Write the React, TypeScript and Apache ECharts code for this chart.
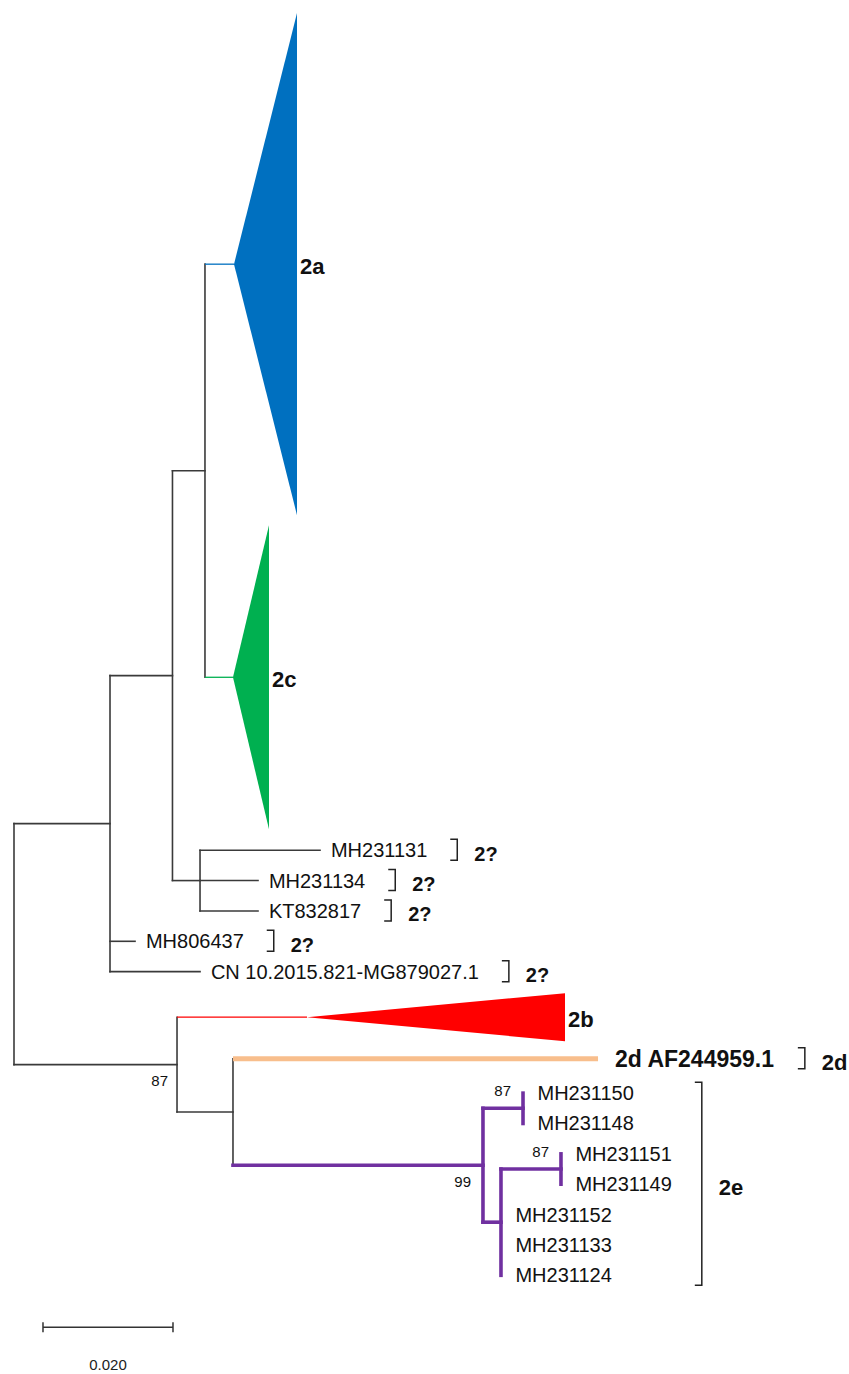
import React, { useEffect, useRef } from "react";
import * as echarts from "echarts";

// ---------------- DATA ----------------
// Distances are substitutions/site from the root; rows are vertical leaf slots.
const internalNames = ["root", "n1", "n2", "n3", "n4", "n5", "n6", "n7", "n8", "n9", "n10"];
const internalParents: (string | null)[] = [null, "root", "n1", "n2", "n2", "root", "n5", "n6", "n7", "n7", "n9"];
const internalDepths = [0, 0.01477, 0.02438, 0.02938, 0.02862, 0.02508, 0.03369, 0.07215, 0.07831, 0.07492, 0.08415];
const internalColors = ["k", "k", "k", "k", "k", "k", "k", "p", "p", "p", "p"];

const leafNames = [
  "MH231131", "MH231134", "KT832817", "MH806437", "CN 10.2015.821-MG879027.1",
  "2d AF244959.1",
  "MH231150", "MH231148", "MH231151", "MH231149", "MH231152", "MH231133", "MH231124",
];
const leafParents = ["n4", "n4", "n4", "n1", "n1", "n6", "n8", "n8", "n10", "n10", "n9", "n9", "n9"];
const leafDepths = [0.04708, 0.03754, 0.03754, 0.01862, 0.02862, 0.08985, 0.07831, 0.07831, 0.08415, 0.08415, 0.07492, 0.07492, 0.07492];
const leafRows = [0, 1, 2, 3, 4, 6.87, 8, 9, 10, 11, 12, 13, 14];
const leafColors = ["k", "k", "k", "k", "k", "o", "p", "p", "p", "p", "p", "p", "p"];
const leafBold = [false, false, false, false, false, true, false, false, false, false, false, false, false];

// Collapsed clades (drawn as triangles)
const cladeNames = ["2a", "2c", "2b"];
const cladeParents = ["n3", "n3", "n5"];
const cladeApexDepths = [0.03385, 0.03369, 0.04508];
const cladeTipDepths = [0.04354, 0.03923, 0.08477];
const cladeTopRows = [-27.57, -10.7, 4.71];
const cladeBottomRows = [-11.03, -0.69, 6.29];
const cladeColors = ["b", "g", "r"];

// Bootstrap support values
const bootNodes = ["n5", "n7", "n8", "n10"];
const bootValues = ["87", "99", "87", "87"];
const bootSide = ["below", "below", "above", "above"];

// Genotype brackets
const groupLabels = ["2?", "2?", "2?", "2?", "2?", "2d", "2e"];
const groupMembers = [
  ["MH231131"], ["MH231134"], ["KT832817"], ["MH806437"], ["CN 10.2015.821-MG879027.1"],
  ["2d AF244959.1"],
  ["MH231150", "MH231148", "MH231151", "MH231149", "MH231152", "MH231133", "MH231124"],
];

// Scale bar
const scaleBarLength = 0.02;
const scaleBarLabel = "0.020";

// ---------------- STYLE ----------------
const COLORS: Record<string, string> = {
  k: "#3a3a3a", p: "#7030A0", o: "#F8BE8C", b: "#0070C0", g: "#00B050", r: "#FF0000",
};
const WIDTHS: Record<string, number> = { k: 1.6, p: 3.6, o: 5, b: 1.3, g: 1.3, r: 1.3 };
const FONT = '"Liberation Sans", Arial, sans-serif';

export default function App() {
  const ref = useRef<HTMLDivElement>(null);
  useEffect(() => {
    document.body.style.margin = "0";
    const chart = echarts.init(ref.current!, null, { renderer: "svg" });

    const canvas = document.createElement("canvas");
    const ctx = canvas.getContext("2d")!;
    const measure = (t: string, size: number, bold: boolean) => {
      ctx.font = `${bold ? "bold " : ""}${size}px "Liberation Sans", Arial, sans-serif`;
      return ctx.measureText(t).width;
    };

    // row computation
    const rowCache: Record<string, number> = {};
    const childRows = (name: string): number[] => {
      const rows: number[] = [];
      internalNames.forEach((n, i) => { if (internalParents[i] === name) rows.push(nodeRow(n)); });
      leafNames.forEach((_, i) => { if (leafParents[i] === name) rows.push(leafRows[i]); });
      cladeNames.forEach((_, i) => { if (cladeParents[i] === name) rows.push((cladeTopRows[i] + cladeBottomRows[i]) / 2); });
      return rows;
    };
    function nodeRow(name: string): number {
      if (rowCache[name] !== undefined) return rowCache[name];
      const r = childRows(name);
      const v = (Math.min(...r) + Math.max(...r)) / 2;
      rowCache[name] = v;
      return v;
    }
    const depthOf = (name: string) => internalDepths[internalNames.indexOf(name)];

    const marks: any[] = [];
    const seg = (x1: number, y1: number, x2: number, y2: number, c: string) => {
      if (x1 === x2 && y1 === y2) return;
      marks.push({ kind: "seg", x1, y1, x2, y2, color: COLORS[c], width: WIDTHS[c], cap: c === "k" || c === "p" ? "square" : "butt" });
    };

    internalNames.forEach((n, i) => {
      const r = childRows(n);
      const c = internalColors[i];
      seg(internalDepths[i], Math.min(...r), internalDepths[i], Math.max(...r), c);
      const p = internalParents[i];
      if (p) seg(depthOf(p), nodeRow(n), internalDepths[i], nodeRow(n), c);
    });
    leafNames.forEach((n, i) => {
      const c = leafColors[i];
      seg(depthOf(leafParents[i]), leafRows[i], leafDepths[i], leafRows[i], c);
    });
    cladeNames.forEach((n, i) => {
      const c = cladeColors[i];
      const mid = (cladeTopRows[i] + cladeBottomRows[i]) / 2;
      seg(depthOf(cladeParents[i]), mid, cladeApexDepths[i], mid, c);
      marks.push({ kind: "tri", apex: [cladeApexDepths[i], mid], top: [cladeTipDepths[i], cladeTopRows[i]], bottom: [cladeTipDepths[i], cladeBottomRows[i]], color: COLORS[c] });
      marks.push({ kind: "text", x: cladeTipDepths[i], y: mid, dx: 3, dy: 2, text: n, size: 22, bold: true, align: "left" });
    });

    // leaf labels
    const leafLabelOffset = (i: number) => 8 + 1.8 * WIDTHS[leafColors[i]];
    const leafSize = (i: number) => (leafBold[i] ? 23 : 20);
    leafNames.forEach((n, i) => {
      marks.push({ kind: "text", x: leafDepths[i], y: leafRows[i], dx: leafLabelOffset(i), dy: 0, text: n, size: leafSize(i), bold: leafBold[i], align: "left" });
    });

    // bootstrap
    bootNodes.forEach((n, i) => {
      const c = internalColors[internalNames.indexOf(n)];
      marks.push({ kind: "text", x: depthOf(n), y: nodeRow(n), dx: c === "p" ? -12 : -9, dy: bootSide[i] === "below" ? 16 : -18, text: bootValues[i], size: 15, bold: false, align: "right" });
    });

    // brackets
    groupLabels.forEach((lab, g) => {
      const idx = groupMembers[g].map((m) => leafNames.indexOf(m));
      marks.push({
        kind: "bracket", x: leafDepths[idx[0]], y: leafRows[idx[0]], label: lab,
        members: idx.map((i) => ({ depth: leafDepths[i], row: leafRows[i], off: leafLabelOffset(i), w: measure(leafNames[i], leafSize(i), leafBold[i]) })),
      });
    });

    // scale bar
    const sbStart = 0.00446, sbRow = 15.71;
    marks.push({ kind: "scale", x: sbStart, y: sbRow, x2: sbStart + scaleBarLength });

    const renderItem = (params: any, api: any) => {
      const m = marks[params.dataIndex];
      if (m.kind === "seg") {
        const a = api.coord([m.x1, m.y1]);
        const b = api.coord([m.x2, m.y2]);
        return { type: "line", shape: { x1: a[0], y1: a[1], x2: b[0], y2: b[1] }, style: { stroke: m.color, lineWidth: m.width, lineCap: m.cap } };
      }
      if (m.kind === "tri") {
        return { type: "polygon", shape: { points: [api.coord(m.apex), api.coord(m.top), api.coord(m.bottom)] }, style: { fill: m.color } };
      }
      if (m.kind === "text") {
        const p = api.coord([m.x, m.y]);
        return {
          type: "text", x: p[0] + m.dx, y: p[1] + m.dy,
          style: { text: m.text, fill: "#111", fontSize: m.size, fontWeight: m.bold ? "bold" : "normal", fontFamily: FONT, align: m.align, verticalAlign: "middle" },
        };
      }
      if (m.kind === "bracket") {
        let right = 0, top = Infinity, bottom = -Infinity;
        m.members.forEach((mm: any) => {
          const p = api.coord([mm.depth, mm.row]);
          right = Math.max(right, p[0] + mm.off + mm.w);
          top = Math.min(top, p[1]);
          bottom = Math.max(bottom, p[1]);
        });
        const bx = right + 23;
        const y1 = top - 11, y2 = bottom + 10;
        return {
          type: "group",
          children: [
            { type: "polyline", shape: { points: [[bx, y1], [bx + 7, y1], [bx + 7, y2], [bx, y2]] }, style: { stroke: "#222", lineWidth: 1.5, fill: null } },
            { type: "text", x: bx + 24, y: (y1 + y2) / 2 + 4, style: { text: m.label, fill: "#111", fontSize: m.label === "2?" ? 20 : 22, fontWeight: "bold", fontFamily: FONT, align: "left", verticalAlign: "middle" } },
          ],
        };
      }
      if (m.kind === "scale") {
        const a = api.coord([m.x, m.y]);
        const b = api.coord([m.x2, m.y]);
        return {
          type: "group",
          children: [
            { type: "line", shape: { x1: a[0], y1: a[1], x2: b[0], y2: b[1] }, style: { stroke: "#333", lineWidth: 1.5 } },
            { type: "line", shape: { x1: a[0], y1: a[1] - 5, x2: a[0], y2: a[1] + 5 }, style: { stroke: "#333", lineWidth: 1.5 } },
            { type: "line", shape: { x1: b[0], y1: b[1] - 5, x2: b[0], y2: b[1] + 5 }, style: { stroke: "#333", lineWidth: 1.5 } },
            { type: "text", x: (a[0] + b[0]) / 2, y: a[1] + 37, style: { text: scaleBarLabel, fill: "#222", fontSize: 15, fontFamily: FONT, align: "center", verticalAlign: "middle" } },
          ],
        };
      }
      return null;
    };

    chart.setOption({
      animation: false,
      backgroundColor: "#fff",
      grid: { left: 14, right: 3, top: 0, bottom: 0 },
      xAxis: { type: "value", min: 0, max: 0.128, show: false },
      yAxis: { type: "value", min: -28, max: 17.25, inverse: true, show: false },
      series: [
        {
          type: "custom",
          coordinateSystem: "cartesian2d",
          silent: true,
          clip: false,
          renderItem,
          data: marks.map((m) => [m.x1 ?? m.x ?? m.apex?.[0] ?? 0, m.y1 ?? m.y ?? m.apex?.[1] ?? 0]),
        },
      ],
    });
    return () => chart.dispose();
  }, []);
  return <div ref={ref} style={{ width: 849, height: 1374 }} />;
}
